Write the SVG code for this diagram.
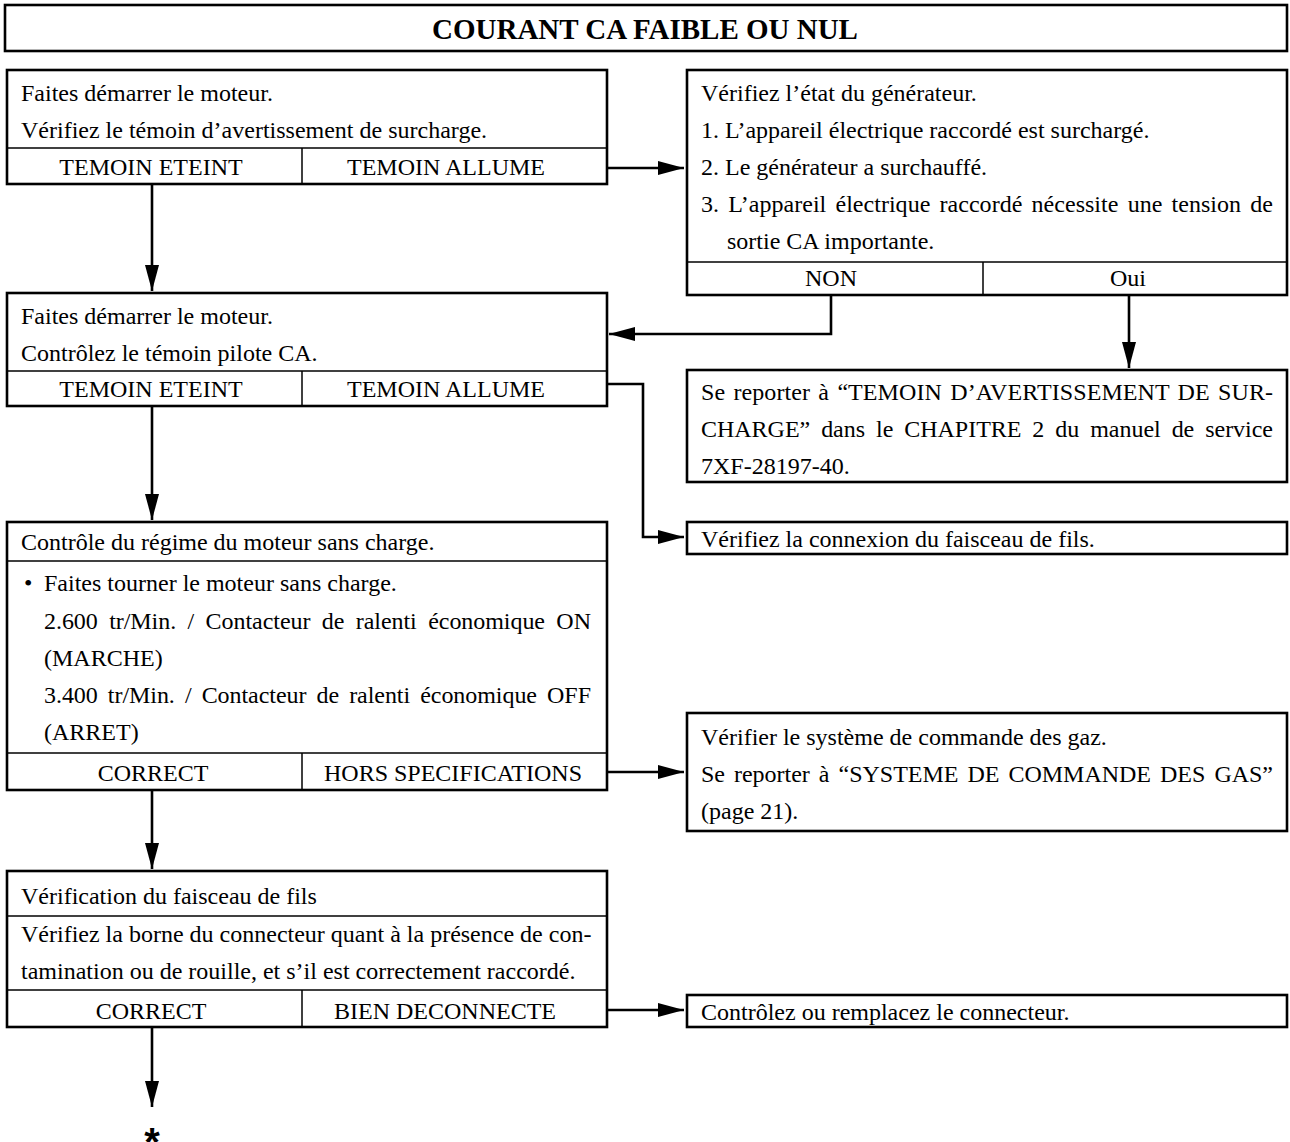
<svg xmlns="http://www.w3.org/2000/svg" width="1290" height="1142" viewBox="0 0 1290 1142">
<defs>
<style>
.box{fill:#fff;stroke:#000;stroke-width:2.6}
.div{stroke:#000;stroke-width:1.5;fill:none}
.t{font-family:"Liberation Serif","Times New Roman",serif;font-size:24px;fill:#000}
.c{text-anchor:middle}
.title{font-family:"Liberation Serif","Times New Roman",serif;font-size:29px;font-weight:bold;text-anchor:middle;fill:#000}
.conn{fill:none;stroke:#000;stroke-width:2.6}
</style>
<marker id="ah" markerUnits="userSpaceOnUse" markerWidth="27" markerHeight="14" refX="26" refY="7" orient="auto" viewBox="0 0 27 14">
<path d="M0,0 L26,7 L0,14 z" fill="#000"/>
</marker>
</defs>
<rect width="1290" height="1142" fill="#fff"/>

<g id="title">
<rect class="box" x="5" y="5" width="1282" height="46"/>
<text class="title" x="645" y="39">COURANT CA FAIBLE OU NUL</text>
</g>

<g id="n1">
<rect class="box" x="7" y="70" width="600" height="114"/>
<line class="div" x1="7" y1="148" x2="607" y2="148"/>
<line class="div" x1="302" y1="148" x2="302" y2="184"/>
<text class="t" x="21" y="101">Faites démarrer le moteur.</text>
<text class="t" x="21" y="138">Vérifiez le témoin d’avertissement de surcharge.</text>
<text class="t c" x="151" y="175">TEMOIN ETEINT</text>
<text class="t c" x="446" y="175">TEMOIN ALLUME</text>
</g>

<g id="n2">
<rect class="box" x="687" y="70" width="600" height="225"/>
<line class="div" x1="687" y1="262" x2="1287" y2="262"/>
<line class="div" x1="983" y1="262" x2="983" y2="295"/>
<text class="t" x="701" y="101">Vérifiez l’état du générateur.</text>
<text class="t" x="701" y="138">1. L’appareil électrique raccordé est surchargé.</text>
<text class="t" x="701" y="175">2. Le générateur a surchauffé.</text>
<text class="t" x="701" y="212" word-spacing="3.2" textLength="572" lengthAdjust="spacing">3. L’appareil électrique raccordé nécessite une tension de</text>
<text class="t" x="727" y="249">sortie CA importante.</text>
<text class="t c" x="831" y="286">NON</text>
<text class="t c" x="1128" y="286">Oui</text>
</g>

<g id="n3">
<rect class="box" x="7" y="293" width="600" height="113"/>
<line class="div" x1="7" y1="371" x2="607" y2="371"/>
<line class="div" x1="302" y1="371" x2="302" y2="406"/>
<text class="t" x="21" y="324">Faites démarrer le moteur.</text>
<text class="t" x="21" y="361">Contrôlez le témoin pilote CA.</text>
<text class="t c" x="151" y="397">TEMOIN ETEINT</text>
<text class="t c" x="446" y="397">TEMOIN ALLUME</text>
</g>

<g id="n4">
<rect class="box" x="687" y="370" width="600" height="112"/>
<text class="t" x="701" y="400" word-spacing="2.2" textLength="572" lengthAdjust="spacing">Se reporter à “TEMOIN D’AVERTISSEMENT DE SUR-</text>
<text class="t" x="701" y="437" word-spacing="5" textLength="572" lengthAdjust="spacing">CHARGE” dans le CHAPITRE 2 du manuel de service</text>
<text class="t" x="701" y="474">7XF-28197-40.</text>
</g>

<g id="n5">
<rect class="box" x="687" y="522" width="600" height="32"/>
<text class="t" x="701" y="547">Vérifiez la connexion du faisceau de fils.</text>
</g>

<g id="n6">
<rect class="box" x="7" y="522" width="600" height="268"/>
<line class="div" x1="7" y1="561" x2="607" y2="561"/>
<line class="div" x1="7" y1="753" x2="607" y2="753"/>
<line class="div" x1="302" y1="753" x2="302" y2="790"/>
<text class="t" x="21" y="550">Contrôle du régime du moteur sans charge.</text>
<text class="t" x="24" y="591">•</text>
<text class="t" x="44" y="591">Faites tourner le moteur sans charge.</text>
<text class="t" x="44" y="629" word-spacing="5.5" textLength="547" lengthAdjust="spacing">2.600 tr/Min. / Contacteur de ralenti économique ON</text>
<text class="t" x="44" y="666">(MARCHE)</text>
<text class="t" x="44" y="703" word-spacing="4.2" textLength="547" lengthAdjust="spacing">3.400 tr/Min. / Contacteur de ralenti économique OFF</text>
<text class="t" x="44" y="740">(ARRET)</text>
<text class="t c" x="153" y="781">CORRECT</text>
<text class="t c" x="453" y="781">HORS SPECIFICATIONS</text>
</g>

<g id="n7">
<rect class="box" x="687" y="713" width="600" height="118"/>
<text class="t" x="701" y="745">Vérifier le système de commande des gaz.</text>
<text class="t" x="701" y="782" word-spacing="3.1" textLength="572" lengthAdjust="spacing">Se reporter à “SYSTEME DE COMMANDE DES GAS”</text>
<text class="t" x="701" y="819">(page 21).</text>
</g>

<g id="n8">
<rect class="box" x="7" y="871" width="600" height="156"/>
<line class="div" x1="7" y1="916" x2="607" y2="916"/>
<line class="div" x1="7" y1="990" x2="607" y2="990"/>
<line class="div" x1="302" y1="990" x2="302" y2="1027"/>
<text class="t" x="21" y="904">Vérification du faisceau de fils</text>
<text class="t" x="21" y="942">Vérifiez la borne du connecteur quant à la présence de con-</text>
<text class="t" x="21" y="979">tamination ou de rouille, et s’il est correctement raccordé.</text>
<text class="t c" x="151" y="1019">CORRECT</text>
<text class="t c" x="445" y="1019">BIEN DECONNECTE</text>
</g>

<g id="n9">
<rect class="box" x="687" y="995" width="600" height="32"/>
<text class="t" x="701" y="1020">Contrôlez ou remplacez le connecteur.</text>
</g>

<g id="end">
<text x="152" y="1156" font-family="Liberation Sans, Arial, sans-serif" font-size="40" font-weight="bold" text-anchor="middle">*</text>
</g>

<g id="connectors">
<path class="conn" d="M607,168 H684" marker-end="url(#ah)"/>
<path class="conn" d="M152,184 V291" marker-end="url(#ah)"/>
<path class="conn" d="M831,295 V334 H609" marker-end="url(#ah)"/>
<path class="conn" d="M1129,295 V368" marker-end="url(#ah)"/>
<path class="conn" d="M607,384 H643 V537 H684" marker-end="url(#ah)"/>
<path class="conn" d="M152,406 V520" marker-end="url(#ah)"/>
<path class="conn" d="M607,772 H684" marker-end="url(#ah)"/>
<path class="conn" d="M152,790 V869" marker-end="url(#ah)"/>
<path class="conn" d="M607,1010 H684" marker-end="url(#ah)"/>
<path class="conn" d="M152,1027 V1107" marker-end="url(#ah)"/>
</g>
</svg>
